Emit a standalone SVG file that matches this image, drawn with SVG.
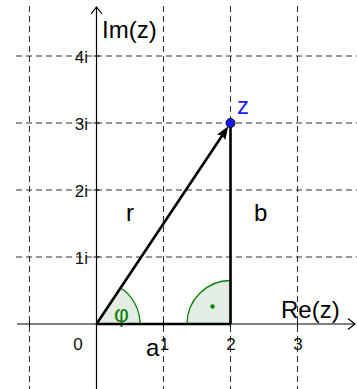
<svg xmlns="http://www.w3.org/2000/svg" width="357" height="389" viewBox="0 0 357 389">
<style>
.grid{stroke:#333;stroke-width:1.1;stroke-dasharray:6 4;fill:none}
.axis{stroke:#000;stroke-width:1.2;fill:none}
.tick{stroke:#000;stroke-width:1}
.tl{font-family:"Liberation Sans",Arial,sans-serif;font-size:17px;fill:#111}
.lbl{font-family:"Liberation Sans",Arial,sans-serif;font-size:24px;fill:#000}
.seg{stroke:#000;stroke-width:2.6;fill:none}
.ang{fill:#e4ede4;stroke:#0a7f0a;stroke-width:1.3}
</style>
<defs>
<marker id="open" markerUnits="userSpaceOnUse" markerWidth="10" markerHeight="12" refX="7" refY="5.5" orient="auto" overflow="visible">
<path d="M0,0 L7,5.5 L0,11" fill="none" stroke="#000" stroke-width="1.2"/>
</marker>
<marker id="arr" markerUnits="userSpaceOnUse" markerWidth="14" markerHeight="10" refX="5" refY="5" orient="auto" overflow="visible">
<path d="M0,0 L13,5 L0,10 L2,5 z" fill="#000"/>
</marker>
</defs>
<rect width="357" height="389" fill="#fff"/>
<g id="grid">
<line class="grid" x1="29.5" y1="6" x2="29.5" y2="389"/>
<line class="grid" x1="163.5" y1="6" x2="163.5" y2="389"/>
<line class="grid" x1="230.5" y1="6" x2="230.5" y2="389"/>
<line class="grid" x1="297.5" y1="6" x2="297.5" y2="389"/>
<line class="grid" x1="16" y1="56" x2="357" y2="56"/>
<line class="grid" x1="16" y1="123" x2="357" y2="123"/>
<line class="grid" x1="16" y1="190" x2="357" y2="190"/>
<line class="grid" x1="16" y1="257" x2="357" y2="257"/>
</g>
<g id="axes">
<line class="axis" x1="17" y1="324" x2="355" y2="324" marker-end="url(#open)"/>
<line class="axis" x1="96.5" y1="389" x2="96.5" y2="7" marker-end="url(#open)"/>
<path class="tick" d="M29.5,321V327M163.5,321V327M230.5,321V327M297.5,321V327M93.5,56H99.5M93.5,123H99.5M93.5,190H99.5M93.5,257H99.5"/>
<text class="tl" x="88" y="62.5" text-anchor="end">4i</text>
<text class="tl" x="88" y="129.5" text-anchor="end">3i</text>
<text class="tl" x="88" y="196.5" text-anchor="end">2i</text>
<text class="tl" x="88" y="263.5" text-anchor="end">1i</text>
<text class="tl" x="78" y="350" text-anchor="middle">0</text>
<text class="tl" x="164.5" y="350" text-anchor="middle">1</text>
<text class="tl" x="231" y="350" text-anchor="middle">2</text>
<text class="tl" x="298" y="350" text-anchor="middle">3</text>
<text class="lbl" x="102" y="38">Im(z)</text>
<text class="lbl" x="281" y="318">Re(z)</text>
</g>
<g id="angle-phi">
<path class="ang" d="M96.5,324 L140,324 A43.5,43.5 0 0 0 120.6,287.8 Z"/>
<text x="121.5" y="322" text-anchor="middle" font-family="'Liberation Sans',Arial,sans-serif" font-size="23" fill="#0a7f0a">φ</text>
</g>
<g id="angle-right">
<path class="ang" d="M230.5,324 L187,324 A43.5,43.5 0 0 1 230.5,280.5 Z"/>
<circle cx="212.5" cy="306.5" r="2.2" fill="#0a7f0a"/>
</g>
<g id="connectors">
<line id="seg-a" class="seg" x1="96.5" y1="324" x2="230.5" y2="324"/>
<line id="seg-b" class="seg" x1="230.5" y1="324" x2="230.5" y2="123"/>
<line id="vec-r" class="seg" x1="96.5" y1="324" x2="223.9" y2="133" marker-end="url(#arr)"/>
</g>
<g id="labels">
<text class="lbl" x="126" y="221">r</text>
<text class="lbl" x="254" y="221">b</text>
<text class="lbl" x="146" y="356">a</text>
</g>
<g id="point-z">
<circle cx="230.5" cy="123" r="4.5" fill="#1515ff" stroke="#111" stroke-width="1"/>
<text x="237" y="114" font-family="'Liberation Sans',Arial,sans-serif" font-size="24" fill="#1a1aff">z</text>
</g>
</svg>
